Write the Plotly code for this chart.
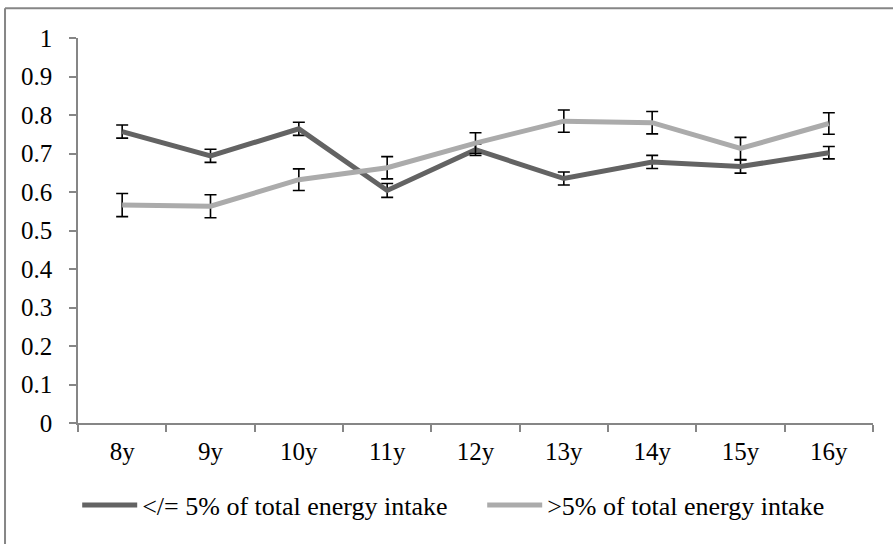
import plotly.graph_objects as go

categories = ["8y", "9y", "10y", "11y", "12y", "13y", "14y", "15y", "16y"]
low_sugar = [0.757, 0.694, 0.764, 0.604, 0.710, 0.635, 0.678, 0.666, 0.702]
low_sugar_err = [0.017, 0.017, 0.017, 0.018, 0.015, 0.017, 0.017, 0.017, 0.016]
high_sugar = [0.566, 0.563, 0.632, 0.663, 0.727, 0.784, 0.780, 0.713, 0.778]
high_sugar_err = [0.030, 0.030, 0.028, 0.029, 0.027, 0.029, 0.029, 0.029, 0.028]
y_ticks = [0, 0.1, 0.2, 0.3, 0.4, 0.5, 0.6, 0.7, 0.8, 0.9, 1]
y_tick_text = ["0", "0.1", "0.2", "0.3", "0.4", "0.5", "0.6", "0.7", "0.8", "0.9", "1"]

FONT = "Liberation Serif"
AXIS = "#868686"
FS = 25
LFS = 26

fig = go.Figure()
fig.add_trace(go.Scatter(
    x=categories, y=low_sugar, mode="lines",
    name="</= 5% of total energy intake",
    line=dict(color="#636363", width=5),
    error_y=dict(type="data", array=low_sugar_err, visible=True,
                 color="black", thickness=1.6, width=6),
))
fig.add_trace(go.Scatter(
    x=categories, y=high_sugar, mode="lines",
    name=">5% of total energy intake",
    line=dict(color="#ababab", width=5),
    error_y=dict(type="data", array=high_sugar_err, visible=True,
                 color="black", thickness=1.6, width=6),
))

fig.update_layout(
    width=893, height=544,
    margin=dict(l=78, r=20, t=38, b=121),
    paper_bgcolor="white", plot_bgcolor="white",
    font=dict(family=FONT, size=FS, color="black"),
    showlegend=True,
    legend=dict(orientation="h", x=-0.001, xanchor="left", y=-0.152, yanchor="top",
                font=dict(family=FONT, size=LFS, color="black"),
                itemwidth=55, tracegroupgap=0, itemsizing="trace",
                entrywidth=335, entrywidthmode="pixels"),
    xaxis=dict(type="category", range=[-0.5, 8.5], showline=True, linecolor=AXIS,
               linewidth=1.5, ticks="outside", tickson="boundaries", ticklen=7,
               tickcolor=AXIS, tickwidth=1.5, showgrid=False, zeroline=False,
               ticklabelstandoff=5,
               tickfont=dict(family=FONT, size=FS)),
    yaxis=dict(range=[0, 1], tickvals=y_ticks, ticktext=y_tick_text, showline=True,
               linecolor=AXIS, linewidth=1.5, ticks="outside", ticklen=7,
               tickcolor=AXIS, tickwidth=1.5, showgrid=False, zeroline=False,
               ticklabelstandoff=12,
               tickfont=dict(family=FONT, size=FS)),
    shapes=[
        dict(type="line", xref="paper", yref="paper", x0=-0.0918, x1=1.2,
             y0=1.077, y1=1.077, line=dict(color=AXIS, width=2)),
        dict(type="line", xref="paper", yref="paper", x0=-0.0918, x1=-0.0918,
             y0=1.077, y1=-0.5, line=dict(color=AXIS, width=2)),
    ],
)

fig.write_html("out.html", config={"displayModeBar": False},
               post_script="document.body.style.margin='0px';")
